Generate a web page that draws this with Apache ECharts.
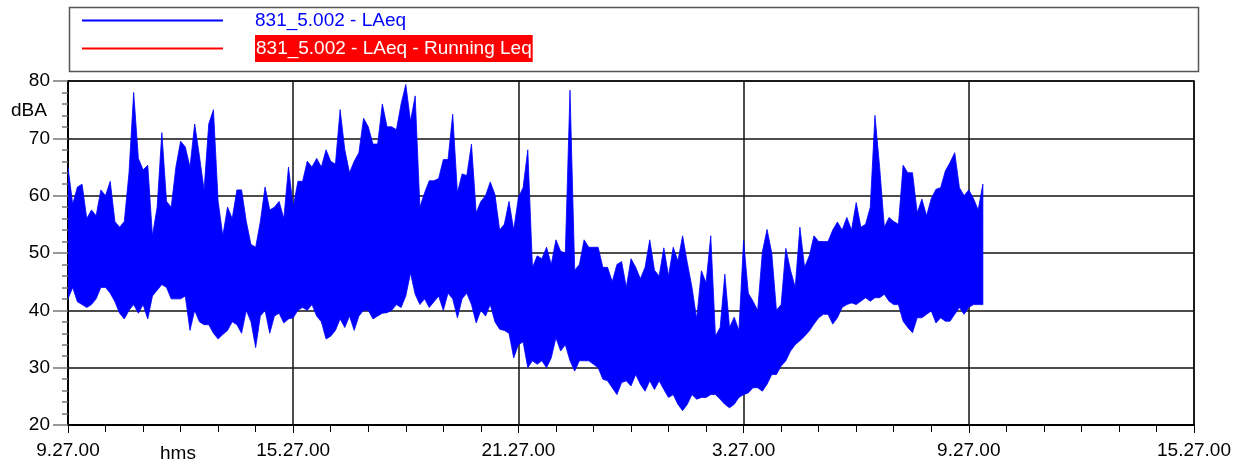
<!DOCTYPE html>
<html><head><meta charset="utf-8">
<script src="https://cdn.jsdelivr.net/npm/echarts@6/dist/echarts.min.js"></script>
<style>html,body{margin:0;padding:0;background:#fff}#c{width:1236px;height:470px}</style>
</head><body><div id="c"></div>
<script>
// ---- data ----
const seriesNames = ['831_5.002 - LAeq', '831_5.002 - LAeq - Running Leq'];
const xTickLabels = ['9.27.00', '15.27.00', '21.27.00', '3.27.00', '9.27.00', '15.27.00'];
const xUnitLabel = 'hms';
const yUnitLabel = 'dBA';
const sampleStepHours = 0.125; // one envelope sample every 7.5 minutes from 9.27.00
// upper envelope (dBA) of LAeq in each sample interval
const laeqHigh = [
  65, 58.5, 61.5, 62, 56, 57.5, 56.5, 61, 60, 62.5, 55.5, 54.5, 55.5, 64, 78, 66.5, 64.5, 65.3, 53, 58, 71, 59, 58, 65, 69.5, 68.5, 65, 72.5, 67, 61, 72.5, 75, 59,
  53, 58, 56, 61, 61, 55.5, 51.5, 51, 55.5, 61.5, 57.5, 58, 59, 56, 65, 58, 62.5, 62.5, 66, 65, 66.5, 65, 68, 66, 65.5, 75, 68, 64, 66, 67.5, 73.5, 72, 69,
  69, 76, 72, 72, 71.5, 76, 79.4, 73, 77.4, 58, 60.5, 62.6, 62.6, 63, 66.3, 66.3, 74.2, 60.5, 63.8, 63.5, 69, 57, 59, 60, 62.4, 60.2, 54, 55, 59, 54, 59.7, 61.4, 68,
  47.5, 49.5, 49, 51, 48, 52.3, 50.3, 50, 78.4, 47, 48, 52.3, 51, 51, 51, 47.5, 47.5, 45, 48, 48.5, 44, 49, 47.5, 45.5, 47.5, 52.3, 47, 46, 50.9, 46, 51, 48.6, 53,
  48.3, 44, 38.5, 46.9, 44.8, 53, 35.5, 37, 46.3, 37, 38.8, 36.5, 52.2, 43, 41.6, 40, 50.2, 54.1, 50, 40, 41, 50.8, 47, 44, 54.5, 47.5, 49.5, 53, 52, 52, 52, 54, 55.4,
  54, 56.2, 54, 58.8, 54.5, 55, 58, 74, 64.9, 54.5, 56.2, 55.5, 55, 65.3, 64, 64, 57, 59.4, 56.5, 59.5, 61.1, 61.4, 64.3, 65.8, 67.5, 61.4, 60, 61, 59.5, 57.5, 62
];
// lower envelope (dBA) of LAeq in each sample interval
const laeqLow = [
  42, 44, 41.5, 41, 40.5, 41, 42, 44, 44, 43, 41.5, 39.5, 38.5, 40, 41, 39.5, 41, 38.5, 42.5, 43.5, 44.5, 44, 42, 42, 42, 42.5, 36.5, 40, 38, 37.5, 37.5, 36, 35,
  35.8, 36.5, 38, 37.5, 36, 40, 38, 33.5, 39, 40, 36, 39, 39.5, 37.8, 38.5, 38.7, 40, 40.5, 40, 41, 39, 38, 35, 35.5, 36.5, 38.5, 37, 39, 36.5, 39, 40, 40, 38.5,
  39, 39.5, 39.6, 40, 41, 40.5, 42.5, 46.5, 42.8, 41, 42, 40.5, 41.5, 42.5, 40, 43, 42, 38.7, 42, 43, 41, 37.8, 40, 39, 41, 38, 36.7, 36.5, 36, 31.7, 34, 34.5, 30,
  31.2, 30.6, 31.2, 30, 31.7, 35.2, 32.9, 34, 31.2, 29.4, 31.2, 31.2, 31.2, 30.6, 30, 28, 27.7, 26.5, 25.3, 27.4, 27.7, 26.8, 28.8, 27.1, 25.9, 27.7, 26.2, 27.7, 26.2, 24.8, 25.3, 23.6, 22.5,
  23.6, 25.3, 24.5, 24.8, 24.8, 25.3, 25.3, 24.5, 23.6, 23, 23.6, 24.8, 25.3, 25.6, 26.5, 26.5, 25.9, 27.1, 28.8, 28.8, 30.3, 31.2, 32.9, 34, 34.7, 35.5, 36.4, 37.6, 38.7, 39.3, 39.3, 37.6, 38.7,
  40.5, 41, 41.3, 41, 41.6, 42.2, 41.6, 42.2, 42.2, 42.8, 41.6, 41, 41, 38.1, 37, 36.1, 38.7, 38.7, 39.3, 39.9, 37.8, 38.7, 38.1, 38.1, 39.3, 40.5, 39.3, 40.5, 41, 41, 41
];
const runningLeq = [];

// ---- rows for the library: [time in hours, low, high] ----
const bandRows = laeqHigh.map((h, i) => [i * sampleStepHours, laeqLow[i], h]);

const FONT = '"Liberation Sans", Arial, sans-serif';
const FS = 19;
const BLUE = '#0000ff';
const chart = echarts.init(document.getElementById('c'), null, {renderer: 'canvas'});
chart.setOption({
  animation: false,
  backgroundColor: '#fff',
  grid: {left: 68, right: 42, top: 81, bottom: 45, show: true, borderColor: '#000', borderWidth: 1.5, backgroundColor: 'transparent'},
  legend: {
    orient: 'vertical', left: 82, top: 11, itemGap: 5, padding: 0,
    itemWidth: 141, itemHeight: 2, icon: 'rect', selectedMode: false,
    data: seriesNames,
    formatter: function (name) {
      return name === seriesNames[1] ? '{sp|}{hl|' + name + '}' : '{sp|}{n|' + name + '}';
    },
    textStyle: {
      fontFamily: FONT, fontSize: FS,
      rich: {
        sp: {width: 27},
        n: {color: BLUE, fontFamily: FONT, fontSize: FS, padding: [4, 0, 4, 0]},
        hl: {color: '#ffffff', backgroundColor: '#ff0000', fontFamily: FONT, fontSize: FS, padding: [4, 1, 4, 1]}
      }
    }
  },
  xAxis: {
    type: 'value', min: 0, max: 30, interval: 6,
    axisLine: {show: true, lineStyle: {color: '#000', width: 2}},
    axisTick: {show: true, inside: false, length: 8, lineStyle: {color: '#000', width: 1}},
    minorTick: {show: true, splitNumber: 6, length: 7, lineStyle: {color: '#000', width: 1}},
    splitLine: {show: true, lineStyle: {color: '#111', width: 1.5}},
    axisLabel: {
      margin: 16, color: '#000', fontFamily: FONT, fontSize: FS,
      formatter: function (v) { return xTickLabels[Math.round(v / 6)]; }
    }
  },
  yAxis: {
    type: 'value', min: 20, max: 80, interval: 10,
    axisLine: {show: true, lineStyle: {color: '#000', width: 2}},
    axisTick: {show: true, inside: false, length: 15, lineStyle: {color: '#777', width: 1.5}},
    minorTick: {show: true, splitNumber: 5, length: 6, lineStyle: {color: '#777', width: 1.5}},
    splitLine: {show: true, lineStyle: {color: '#111', width: 1.5}},
    axisLabel: {margin: 18, color: '#000', fontFamily: FONT, fontSize: FS}
  },
  graphic: [
    {type: 'rect', left: 67, top: 5, shape: {width: 1129, height: 64}, style: {fill: 'none', stroke: '#555', lineWidth: 1.5}, silent: true},
    {type: 'text', left: 11, top: 101, style: {text: yUnitLabel, fill: '#000', font: FS + 'px ' + FONT}},
    {type: 'text', left: 160, top: 444, style: {text: xUnitLabel, fill: '#000', font: FS + 'px ' + FONT}}
  ],
  series: [
    {
      name: seriesNames[0], type: 'custom', data: bandRows, itemStyle: {color: BLUE}, color: BLUE,
      encode: {x: 0, y: [1, 2]}, clip: true, z: 3, silent: true,
      renderItem: function (params, api) {
        if (params.dataIndex !== 0) return null;
        const pts = [];
        for (let i = 0; i < bandRows.length; i++) pts.push(api.coord([bandRows[i][0], bandRows[i][2]]));
        for (let i = bandRows.length - 1; i >= 0; i--) pts.push(api.coord([bandRows[i][0], bandRows[i][1]]));
        return {type: 'polygon', shape: {points: pts}, style: {fill: BLUE, stroke: BLUE, lineWidth: 0.8, lineJoin: 'miter', miterLimit: 20}};
      }
    },
    {
      name: seriesNames[1], type: 'line', data: runningLeq, showSymbol: false, symbol: 'none',
      color: '#ff0000', lineStyle: {color: '#ff0000', width: 2.5}
    }
  ]
});
</script>
</body></html>
